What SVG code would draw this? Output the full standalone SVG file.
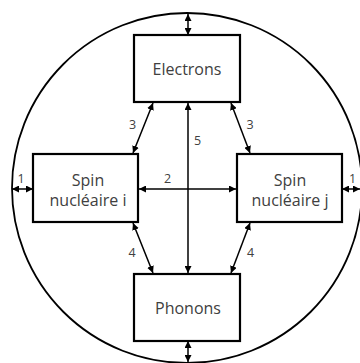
<svg xmlns="http://www.w3.org/2000/svg" width="360" height="363" viewBox="0 0 360 363">
<defs>
<marker id="ah" viewBox="0 0 8 8" refX="8" refY="4" markerWidth="7" markerHeight="7" markerUnits="userSpaceOnUse" orient="auto-start-reverse"><path d="M0,0 L8,4 L0,8 Z" fill="#000"/></marker>
<style>
.box{fill:#fff;stroke:#000;stroke-width:2.2}
.t{font-family:"Open Sans","Liberation Sans",sans-serif;font-size:16px;fill:#404040;text-anchor:middle}
.n{font-family:"Open Sans","Liberation Sans",sans-serif;font-size:12.5px;fill:#404040;text-anchor:middle}
.c{stroke:#000;stroke-width:1.5;fill:none;marker-start:url(#ah);marker-end:url(#ah)}
</style>
</defs>
<rect width="360" height="363" fill="#fff"/>
<circle cx="187" cy="188" r="175" fill="none" stroke="#000" stroke-width="1.8"/>
<g id="connectors">
<line class="c" x1="188" y1="14" x2="188" y2="35"/>
<line class="c" x1="188" y1="341" x2="188" y2="362"/>
<line class="c" x1="12" y1="189" x2="33" y2="189"/>
<line class="c" x1="342" y1="189" x2="360" y2="189"/>
<line class="c" x1="188" y1="103" x2="188" y2="273"/>
<line class="c" x1="139" y1="189" x2="236" y2="189"/>
<line class="c" x1="153" y1="103" x2="133" y2="153"/>
<line class="c" x1="231" y1="103" x2="250" y2="153"/>
<line class="c" x1="133" y1="223" x2="153" y2="273"/>
<line class="c" x1="250" y1="223" x2="231" y2="273"/>
<text class="n" x="21" y="183">1</text>
<text class="n" x="352.5" y="183">1</text>
<text class="n" x="167.5" y="183">2</text>
<text class="n" x="132.5" y="129">3</text>
<text class="n" x="250" y="129">3</text>
<text class="n" x="132" y="257">4</text>
<text class="n" x="250.5" y="257">4</text>
<text class="n" x="197.5" y="145">5</text>
</g>
<g id="electrons"><rect class="box" x="134" y="35" width="106" height="67"/><text class="t" x="187" y="75">Electrons</text></g>
<g id="phonons"><rect class="box" x="134" y="274" width="106" height="67"/><text class="t" x="188" y="314">Phonons</text></g>
<g id="spin-i"><rect class="box" x="33" y="154" width="105" height="68"/><text class="t" x="88" y="186">Spin</text><text class="t" x="88" y="206">nucléaire i</text></g>
<g id="spin-j"><rect class="box" x="237" y="154" width="105" height="68"/><text class="t" x="290" y="186">Spin</text><text class="t" x="290" y="206">nucléaire j</text></g>
</svg>
